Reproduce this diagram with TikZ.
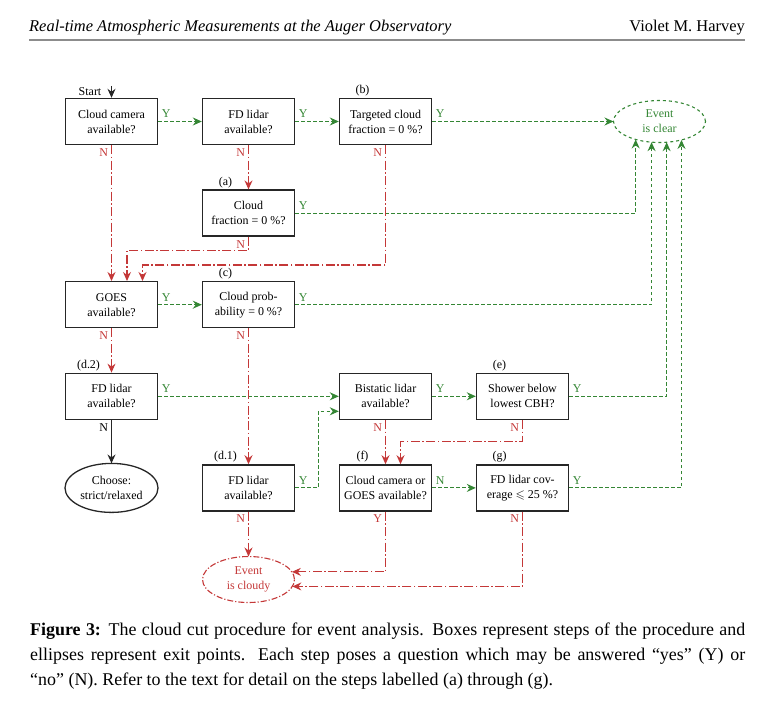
\documentclass[tikz,border=0pt]{standalone}
\usepackage{fontspec}
\setmainfont{Liberation Serif}
\usepackage{amssymb}
\usetikzlibrary{positioning,arrows.meta,shapes.geometric}
\definecolor{yesgreen}{RGB}{52,134,52}
\definecolor{nored}{RGB}{196,56,56}

\begin{document}
\begin{tikzpicture}[x=1bp, y=-1bp, on grid, node distance=91.6bp and 137bp,
    font=\fontsize{12}{15}\selectfont,
    box/.style={draw=black!85, line width=1.4bp, minimum width=92bp, minimum height=46bp, align=center, inner sep=2bp},
    exitclear/.style={ellipse, draw=yesgreen, text=yesgreen, line width=1.1bp, dash pattern=on 3bp off 3bp, minimum width=92bp, minimum height=42bp, align=center, inner sep=0bp, outer sep=0bp},
    exitcloudy/.style={ellipse, draw=nored, text=nored, line width=1.1bp, dash pattern=on 6bp off 2bp on 1.2bp off 2bp, minimum width=92bp, minimum height=46bp, align=center, inner sep=0bp, outer sep=0bp},
    exitchoose/.style={ellipse, draw=black!85, line width=1.3bp, minimum width=93bp, minimum height=49bp, align=center, inner sep=0bp, outer sep=0bp},
    tip/.style={-{Stealth[length=9bp,width=8bp,inset=3bp]}},
    yes/.style={tip, yesgreen, line width=1.1bp, dash pattern=on 3.5bp off 2.5bp},
    no/.style={tip, nored, line width=1.1bp, dash pattern=on 9bp off 2.5bp on 1.5bp off 2.5bp},
    plain/.style={tip, black!85, line width=1.1bp},
    ylab/.style={text=yesgreen, anchor=south west, inner sep=3bp},
    nlab/.style={text=nored, anchor=north east, inner sep=3bp},
    taglab/.style={anchor=south, inner sep=1.5bp}]

\useasboundingbox (0,0) rectangle (765,708);

\node[anchor=base west, inner sep=0bp, font=\fontsize{16.5}{20}\selectfont\itshape] (head) at (29,32) {Real-time Atmospheric Measurements at the Auger Observatory};
\node[anchor=base east, inner sep=0bp, font=\fontsize{16.5}{20}\selectfont] (auth) at (745,32) {Violet M. Harvey};
\draw[black!45, line width=1.5bp] (head.base west |- 0,40) -- (auth.base east |- 0,40);

\node[box] (cam) at (111.5,121.5) {Cloud camera\\available?};
\node[box, right=of cam] (fdl) {FD lidar\\available?};
\node[box, right=of fdl] (tcf) {Targeted cloud\\fraction = 0~\%?};
\node[exitclear, right=274bp of tcf] (clear) {Event\\is clear};
\node[box, below=of fdl] (cf) {Cloud\\fraction = 0~\%?};
\node[box, below=of cf] (cp) {Cloud prob-\\ability = 0~\%?};
\node[box, left=of cp] (goes) {GOES\\available?};
\node[box, below=of goes] (d2) {FD lidar\\available?};
\node[box, below right=of cp] (bis) {Bistatic lidar\\available?};
\node[box, right=of bis] (shb) {Shower below\\lowest CBH?};
\node[box, below left=of bis] (d1) {FD lidar\\available?};
\node[box, below=of bis] (fcg) {Cloud camera or\\GOES available?};
\node[box, right=of fcg] (fcov) {FD lidar cov-\\erage $\leqslant$ 25~\%?};
\node[exitcloudy, below=of d1] (cloudy) {Event\\is cloudy};
\node[exitchoose, below=of d2] (choose) {Choose:\\strict/relaxed};

\node[taglab] (ta) at ([xshift=-23bp]cf.north) {(a)};
\node[taglab] (tb) at ([xshift=-23bp]tcf.north) {(b)};
\node[taglab] (tc) at ([xshift=-23bp]cp.north) {(c)};
\node[taglab] (td2) at ([xshift=-23bp]d2.north) {(d.2)};
\node[taglab] (td1) at ([xshift=-23bp]d1.north) {(d.1)};
\node[taglab] (te) at ([xshift=-23bp]shb.north) {(e)};
\node[taglab] (tf) at ([xshift=-23bp]fcg.north) {(f)};
\node[taglab] (tg) at ([xshift=-23bp]fcov.north) {(g)};

\coordinate (st) at ([yshift=12bp]cam.north);
\node[anchor=base east, inner sep=0bp] (start) at ([xshift=-10bp,yshift=2bp]cam.north) {Start};
\draw[plain] (st) -- (cam.north);

% yes branches
\draw[yes] (cam.east) node[ylab] (y1) {Y} -- (fdl.west);
\draw[yes] (fdl.east) node[ylab] (y2) {Y} -- (tcf.west);
\draw[yes] (tcf.east) node[ylab] (y3) {Y} -- (clear.west);
\draw[yes] (cf.east) node[ylab] (y4) {Y} -| (clear.217);
\draw[yes] (goes.east) node[ylab] (y5) {Y} -- (cp.west);
\draw[yes] (cp.east) node[ylab] (y6) {Y} -| (clear.249);
\draw[yes] (d2.east) node[ylab] (y7) {Y} -- (bis.west);
\draw[yes] (d1.east) node[ylab] (y8) {Y} -- ++(23,0) |- ([yshift=-15bp]bis.west);
\draw[yes] (bis.east) node[ylab] (y9) {Y} -- (shb.west);
\draw[yes] (shb.east) node[ylab] (y10) {Y} -| (clear.289);
\draw[yes] (fcg.east) node[ylab] (n13) {N} -- (fcov.west);
\draw[yes] (fcov.east) node[ylab] (y11) {Y} -| (clear.320);

% no branches
\draw[no] (cam.south) node[nlab] (n1) {N} -- (goes.north);
\draw[no] (fdl.south) node[nlab] (n2) {N} -- (cf.north);
\draw[no] (cf.south) node[nlab] (n3) {N} |- ([xshift=15.5bp,yshift=30.5bp]goes.north) -- ([xshift=15.5bp]goes.north);
\draw[no] (tcf.south) node[nlab] (n4) {N} |- ([xshift=31bp,yshift=16bp]goes.north) -- ([xshift=31bp]goes.north);
\draw[no] (goes.south) node[nlab] (n5) {N} -- (d2.north);
\draw[no] (cp.south) node[nlab] (n6) {N} -- (d1.north);
\draw[no] (bis.south) node[nlab] (n7) {N} -- (fcg.north);
\draw[no] (shb.south) node[nlab] (n8) {N} |- ([xshift=15bp,yshift=23bp]fcg.north) -- ([xshift=15bp]fcg.north);
\draw[no] (d1.south) node[nlab] (n9) {N} -- (cloudy.north);
\draw[no] (fcg.south) node[nlab] (y12) {Y} |- (cloudy.10);
\draw[no] (fcov.south) node[nlab] (n10) {N} |- (cloudy.351);
\draw[plain] (d2.south) node[nlab, text=black] (n11) {N} -- (choose.north);

\node[anchor=north west, inner sep=0bp, text width=715bp, align=justify, font=\fontsize{18}{25}\selectfont] (cap) at (30,623) {\textbf{Figure 3:} The cloud cut procedure for event analysis. Boxes represent steps of the procedure and\linebreak ellipses represent exit points.  Each step poses a question which may be answered “yes” (Y) or\linebreak “no” (N). Refer to the text for detail on the steps labelled (a) through (g).};
\end{tikzpicture}
\end{document}
